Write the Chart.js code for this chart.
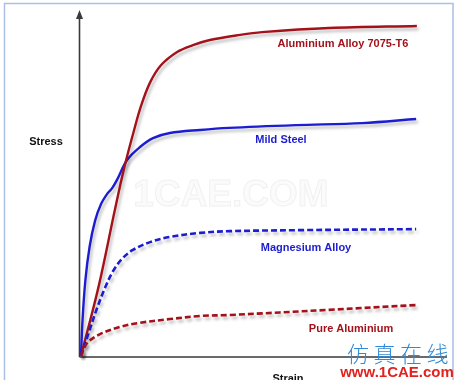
<!DOCTYPE html>
<html>
<head>
<meta charset="utf-8">
<script src="https://cdn.jsdelivr.net/npm/chart.js@4.4.1/dist/chart.umd.min.js"></script>
<style>
  html, body { margin: 0; padding: 0; background: #ffffff; }
  #wrap { width: 459px; height: 380px; }
</style>
</head>
<body>
<div id="wrap"><canvas id="c" width="459" height="380"></canvas></div>
<script>
// ---- Data (relative units: strain 0..100, stress 0..100) ----
const seriesNames = ["Aluminium Alloy 7075-T6", "Mild Steel", "Magnesium Alloy", "Pure Aluminium"];

const al7075Strain = [0, 5.0, 9.4, 12.0, 14.6, 16.7, 19.2, 22.2, 26.7, 31.1, 35.8, 44.2, 50.3, 68.9, 93.3];
const al7075Stress = [0, 20.8, 42.7, 55.0, 65.5, 73.2, 80.0, 85.0, 88.9, 90.9, 92.4, 93.9, 94.7, 95.9, 96.5];

const steelStrain = [0, 0.4, 1.2, 2.4, 3.9, 5.6, 7.4, 8.6, 10.0, 12.8, 16.4, 20.0, 24.7, 33.1, 41.1, 59.7, 78.1, 93.1];
const steelStress = [0, 10.0, 22.0, 32.0, 39.5, 44.5, 47.6, 49.0, 51.5, 57.3, 61.1, 63.7, 65.2, 66.1, 66.7, 67.5, 68.1, 69.3];

const magStrain = [0, 2.2, 4.4, 6.7, 8.9, 11.4, 14.4, 19.2, 24.7, 33.1, 41.4, 60.8, 93.1];
const magStress = [0, 7.0, 13.8, 20.0, 24.8, 28.4, 31.0, 33.3, 34.8, 36.0, 36.5, 36.8, 37.1];

const pureAlStrain = [0, 1.7, 5.3, 10.8, 15.6, 24.7, 33.1, 41.4, 68.9, 93.1];
const pureAlStress = [0, 3.8, 6.4, 8.5, 9.6, 10.8, 11.7, 12.0, 13.5, 14.9];

const axisTitles = { x: "Strain", y: "Stress" };

// ---- Build datasets ----
function pts(xs, ys) { return xs.map((x, i) => ({ x: x, y: ys[i] })); }
const RED = "#a3121b";
const BLUE = "#1c1cd0";

const datasets = [
  { label: seriesNames[3], data: pts(pureAlStrain, pureAlStress), borderColor: RED, borderDash: [6, 3], borderWidth: 2.6 },
  { label: seriesNames[2], data: pts(magStrain, magStress), borderColor: BLUE, borderDash: [6, 3], borderWidth: 2.6 },
  { label: seriesNames[0], data: pts(al7075Strain, al7075Stress), borderColor: RED, borderWidth: 2.4 },
  { label: seriesNames[1], data: pts(steelStrain, steelStress), borderColor: BLUE, borderWidth: 2.4 }
].map(d => Object.assign({ pointRadius: 0, fill: false, tension: 0.35, clip: false }, d));

// label placement (pixel centres)
const seriesLabelPos = [
  { text: seriesNames[0], x: 343, y: 44, color: RED },
  { text: seriesNames[1], x: 281, y: 140, color: BLUE },
  { text: seriesNames[2], x: 306, y: 248, color: BLUE },
  { text: seriesNames[3], x: 351, y: 329, color: RED }
];

const decor = {
  id: "decor",
  beforeDatasetsDraw(chart) {
    const ctx = chart.ctx;
    const xs = chart.scales.x, ys = chart.scales.y;
    ctx.save();
    // frame
    ctx.strokeStyle = "#a9c1e2";
    ctx.lineWidth = 1.5;
    ctx.strokeRect(4.5, 3.5, 448.5, 390);
    // watermark
    ctx.font = "bold 37px 'Liberation Sans', Arial, sans-serif";
    ctx.textAlign = "center";
    ctx.textBaseline = "alphabetic";
    ctx.fillStyle = "#fbfbfb";
    ctx.strokeStyle = "#f1f1f1";
    ctx.lineWidth = 1;
    ctx.fillText("1CAE.COM", 231, 206);
    ctx.strokeText("1CAE.COM", 231, 206);
    // axes
    const ox = xs.getPixelForValue(0) - 1.5;
    const oy = ys.getPixelForValue(0) + 1;
    ctx.strokeStyle = "#3a3a3a";
    ctx.fillStyle = "#3a3a3a";
    ctx.lineWidth = 1.6;
    ctx.beginPath();
    ctx.moveTo(ox, oy);
    ctx.lineTo(ox, 17);
    ctx.moveTo(ox, oy);
    ctx.lineTo(447, oy);
    ctx.stroke();
    ctx.beginPath();
    ctx.moveTo(ox, 10);
    ctx.lineTo(ox - 3.5, 19);
    ctx.lineTo(ox + 3.5, 19);
    ctx.closePath();
    ctx.fill();
    ctx.restore();
  },
  beforeDatasetDraw(chart) {
    const ctx = chart.ctx;
    ctx.save();
    ctx.shadowColor = "rgba(0,0,0,0.25)";
    ctx.shadowOffsetX = 2;
    ctx.shadowOffsetY = 3;
    ctx.shadowBlur = 3;
  },
  afterDatasetDraw(chart) {
    chart.ctx.restore();
  },
  afterDraw(chart) {
    const ctx = chart.ctx;
    ctx.save();
    ctx.textAlign = "center";
    ctx.textBaseline = "middle";
    ctx.font = "bold 11px 'Liberation Sans', Arial, sans-serif";
    seriesLabelPos.forEach(l => {
      ctx.fillStyle = l.color;
      ctx.fillText(l.text, l.x, l.y);
    });
    ctx.fillStyle = "#111111";
    ctx.fillText(axisTitles.y, 46, 142);
    ctx.textBaseline = "top";
    ctx.fillText(axisTitles.x, 288, 373);
    // site watermark
    ctx.textBaseline = "middle";
    ctx.fillStyle = "#2f8ad6";
    ctx.font = "300 22px 'Noto Sans CJK SC', sans-serif";
    const chars = ["仿", "真", "在", "线"];
    chars.forEach((ch, i) => ctx.fillText(ch, 358 + i * 26.5, 354));
    ctx.fillStyle = "#e3221f";
    ctx.font = "bold 15px 'Liberation Sans', Arial, sans-serif";
    ctx.fillText("www.1CAE.com", 397, 373);
    ctx.restore();
  }
};

new Chart(document.getElementById("c"), {
  type: "line",
  data: { datasets: datasets },
  options: {
    responsive: false,
    animation: false,
    devicePixelRatio: 1,
    layout: { padding: { left: 81, right: 18, top: 14, bottom: 24 } },
    plugins: { legend: { display: false }, tooltip: { enabled: false } },
    scales: {
      x: { type: "linear", min: 0, max: 100, display: false },
      y: { type: "linear", min: 0, max: 100, display: false }
    }
  },
  plugins: [decor]
});
</script>
</body>
</html>
